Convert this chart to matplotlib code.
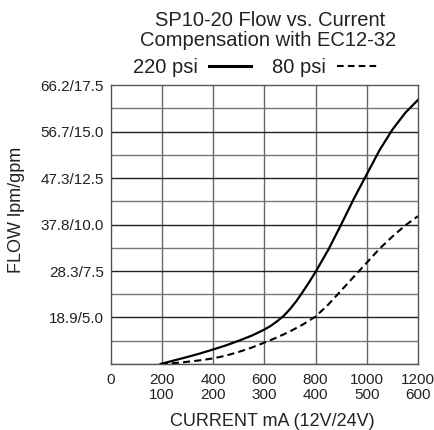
import numpy as np
import matplotlib.pyplot as plt
from matplotlib.lines import Line2D

plt.rcParams['font.family'] = ['Liberation Sans', 'DejaVu Sans']

# flow (gpm), current in mA (12V coil)
current_220 = [195, 250, 300, 350, 400, 450, 500, 550, 600, 625, 650, 675, 700, 725,
               750, 775, 800, 850, 900, 950, 1000, 1050, 1100, 1150, 1200]
flow_220 = [2.5, 2.7, 2.88, 3.07, 3.28, 3.5, 3.75, 4.02, 4.35, 4.55, 4.8, 5.08, 5.45,
            5.88, 6.38, 6.9, 7.45, 8.65, 10.0, 11.4, 12.7, 14.0, 15.1, 16.0, 16.7]
current_80 = [195, 250, 300, 350, 400, 450, 500, 550, 600, 650, 700, 750, 800,
              850, 900, 950, 1000, 1050, 1100, 1150, 1200]
flow_80 = [2.5, 2.55, 2.62, 2.7, 2.8, 2.95, 3.15, 3.38, 3.65, 3.93, 4.25, 4.62, 5.05,
           5.7, 6.45, 7.2, 7.95, 8.7, 9.35, 9.95, 10.45]

x_ticks = [0, 200, 400, 600, 800, 1000, 1200]
x_labels = ["0", "200\n100", "400\n200", "600\n300", "800\n400", "1000\n500", "1200\n600"]
y_ticks = [5.0, 7.5, 10.0, 12.5, 15.0, 17.5]
y_labels = ["18.9/5.0", "28.3/7.5", "37.8/10.0", "47.3/12.5", "56.7/15.0", "66.2/17.5"]
y_minor = [2.5, 3.75, 6.25, 8.75, 11.25, 13.75, 16.25]

fig = plt.figure(figsize=(4.35, 4.30), dpi=100)
ax = fig.add_axes([0.2545, 0.1535, 0.7064, 0.6488])

# grid
for xv in x_ticks[1:-1]:
    ax.axvline(xv, color="#666666", lw=1.0, zorder=1)
for yv in y_minor:
    ax.axhline(yv, color="#777777", lw=1.0, zorder=1)
for yv in y_ticks[:-1]:
    ax.axhline(yv, color="#222222", lw=1.0, zorder=1)

ax.plot(current_220, flow_220, color="black", lw=1.6, zorder=3)
ax.plot(current_80, flow_80, color="black", lw=1.5, dashes=(3.4, 2.0), zorder=3)

ax.set_xlim(0, 1200)
ax.set_ylim(2.5, 17.5)
ax.set_xticks(x_ticks)
ax.set_xticklabels(x_labels, fontsize=11, linespacing=1.08)
ax.set_yticks(y_ticks)
ax.set_yticklabels(y_labels, fontsize=11)
ax.tick_params(axis="both", length=0, colors="#222222")
ax.tick_params(axis="x", pad=6.8)
ax.tick_params(axis="y", pad=4.8)
for s in ax.spines.values():
    s.set_color("#555555")
    s.set_linewidth(1.0)

ax.set_xlabel("CURRENT mA (12V/24V)", fontsize=13, color="#222222")
ax.xaxis.set_label_coords(0.527, -0.176)
ax.set_ylabel("FLOW lpm/gpm", fontsize=13, color="#222222")
ax.yaxis.set_label_coords(-0.279, 0.552)

fig.text(0.62, 1 - 20 / 430, "SP10-20 Flow vs. Current", fontsize=14.5,
         ha="center", va="center", color="#222222")
fig.text(0.617, 1 - 41 / 430, "Compensation with EC12-32", fontsize=14.5,
         ha="center", va="center", color="#222222")

handles = [Line2D([], [], color="black", lw=2.2),
           Line2D([], [], color="black", lw=1.5, dashes=(3.2, 2.0))]
fig.legend(handles, ["220 psi", "80 psi"], ncol=2, markerfirst=False, frameon=False,
           loc="center", bbox_to_anchor=(0.589, 1 - 67.5 / 430), fontsize=14.5,
           handlelength=2.1, handletextpad=0.55, columnspacing=1.05,
           borderpad=0, labelcolor="#222222")

fig.savefig("out.png", dpi=100)
